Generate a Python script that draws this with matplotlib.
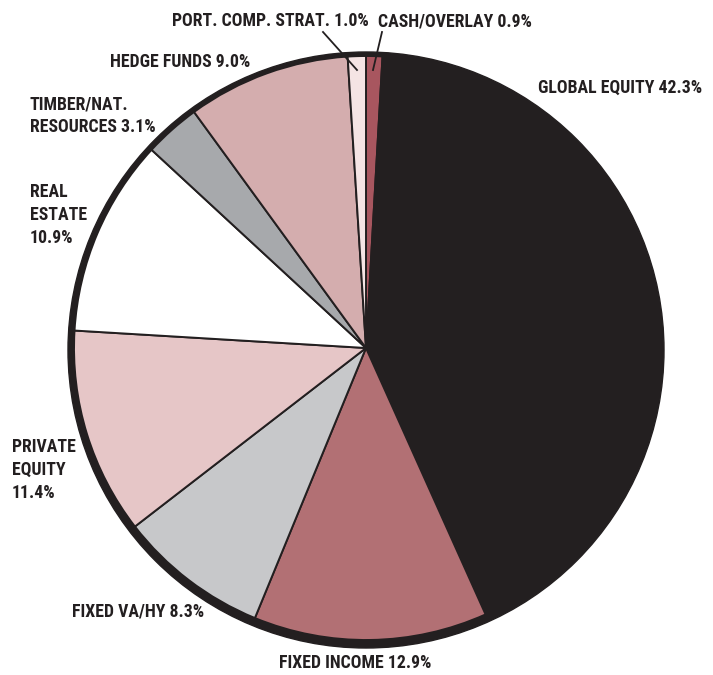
import matplotlib.pyplot as plt
from matplotlib.patches import Circle

labels = ['CASH/OVERLAY', 'GLOBAL EQUITY', 'FIXED INCOME', 'FIXED VA/HY',
          'PRIVATE EQUITY', 'REAL ESTATE', 'TIMBER/NAT. RESOURCES',
          'HEDGE FUNDS', 'PORT. COMP. STRAT.']
values = [0.9, 42.3, 12.9, 8.3, 11.4, 10.9, 3.1, 9.0, 1.0]
colors = ['#a8565f', '#231f20', '#b27074', '#c7c8ca', '#e6c6c7',
          '#ffffff', '#a7a9ac', '#d4adae', '#f5e4e4']

# label texts as printed on the chart
label_text = ['CASH/OVERLAY 0.9%', 'GLOBAL EQUITY 42.3%', 'FIXED INCOME 12.9%',
              'FIXED VA/HY 8.3%', 'PRIVATE\nEQUITY\n11.4%', 'REAL\nESTATE\n10.9%',
              'TIMBER/NAT.\nRESOURCES 3.1%', 'HEDGE FUNDS 9.0%',
              'PORT. COMP. STRAT. 1.0%']
label_pos = [(378, 21), (538, 88), (279, 663), (72, 611), (12, 470),
             (30, 215), (30, 116), (110, 62), (172, 21)]

W, H = 713, 675
fig = plt.figure(figsize=(W / 100, H / 100), dpi=100)
ax = fig.add_axes([0, 0, 1, 1])

cx, cy, r = 366, H - 348, 292

# outer black rim, slightly shifted down
ax.add_patch(Circle((cx, cy - 2), r + 6, color='#231f20', zorder=1))

ax.pie(values, colors=colors, startangle=90, counterclock=False,
       center=(cx, cy), radius=r, frame=True,
       wedgeprops=dict(edgecolor='#231f20', linewidth=1.4, zorder=2))
ax.set_xlim(0, W)
ax.set_ylim(0, H)
ax.set_aspect('equal')
ax.axis('off')

fam = ['Roboto Condensed', 'Liberation Sans']
for t, (x, y) in zip(label_text, label_pos):
    ax.text(x, H - y, t, fontsize=12.8, fontweight='bold', family=fam,
            color='#231f20', ha='left', va='center', linespacing=1.35,
            zorder=5)

# leader lines for the two small slices
ax.plot([323, 357], [H - 32, H - 70], color='#231f20', lw=1.3, zorder=5)
ax.plot([382, 373], [H - 32, H - 70], color='#231f20', lw=1.3, zorder=5)

fig.savefig('out.png', dpi=100)
